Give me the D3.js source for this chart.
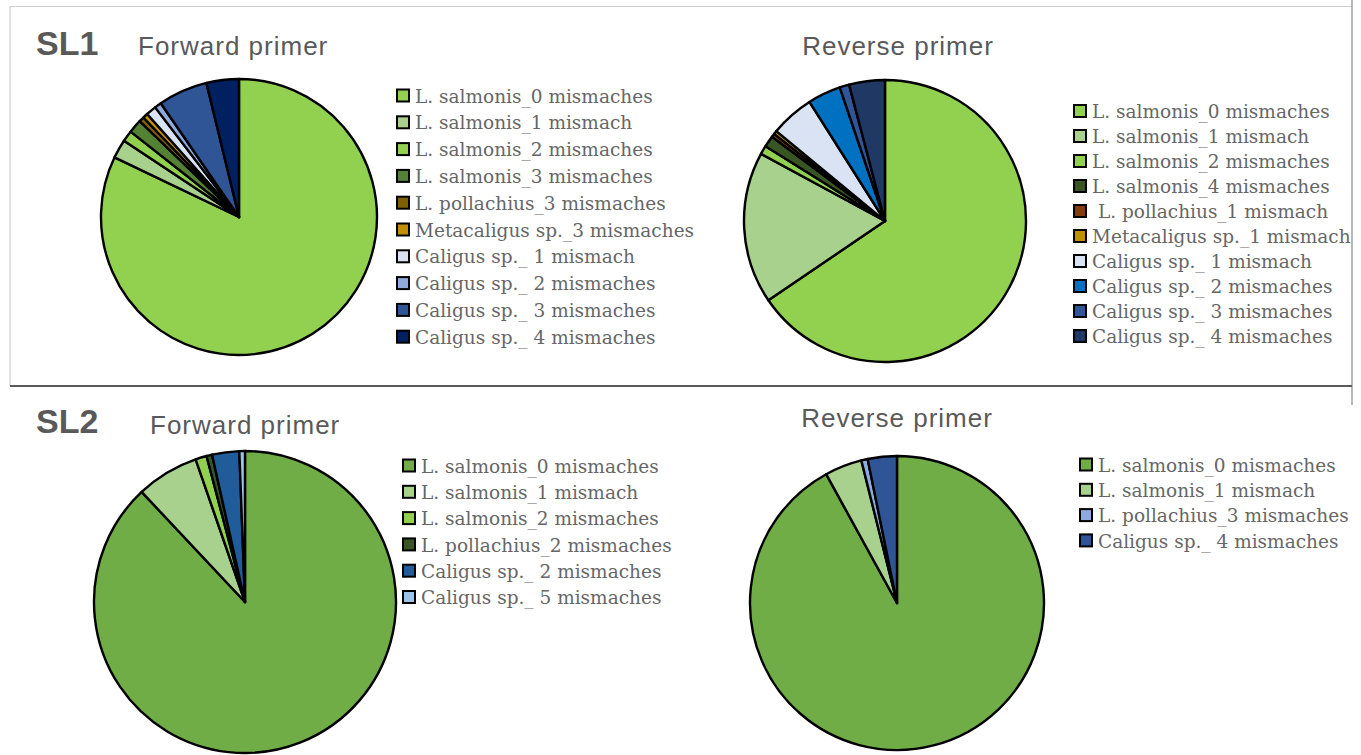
<!DOCTYPE html>
<html>
<head>
<meta charset="utf-8">
<script src="https://cdn.jsdelivr.net/npm/d3@7"></script>
<style>
  html, body { margin: 0; padding: 0; background: #fff; }
  svg { display: block; }
</style>
</head>
<body>
<svg id="chart" width="1361" height="755"></svg>
<script>
// ---------- DATA ----------
const sl1FwdLabels = ["L. salmonis_0 mismaches", "L. salmonis_1 mismach", "L. salmonis_2 mismaches", "L. salmonis_3 mismaches", "L. pollachius_3 mismaches", "Metacaligus sp._3 mismaches", "Caligus sp._ 1 mismach", "Caligus sp._ 2 mismaches", "Caligus sp._ 3 mismaches", "Caligus sp._ 4 mismaches"];
const sl1FwdValues = [82.2, 2.2, 1.3, 1.6, 0.6, 0.6, 1.2, 0.8, 5.8, 3.8];
const sl1FwdColors = ["#92D050", "#A9D18E", "#92D050", "#548235", "#7F6000", "#BF9000", "#DAE3F3", "#8FAADC", "#2F5597", "#002060"];

const sl1RevLabels = ["L. salmonis_0 mismaches", "L. salmonis_1 mismach", "L. salmonis_2 mismaches", "L. salmonis_4 mismaches", " L. pollachius_1 mismach", "Metacaligus sp._1 mismach", "Caligus sp._ 1 mismach", "Caligus sp._ 2 mismaches", "Caligus sp._ 3 mismaches", "Caligus sp._ 4 mismaches"];
const sl1RevValues = [65.5, 17.4, 1.0, 1.3, 0.4, 0.4, 5.0, 3.8, 1.1, 4.1];
const sl1RevColors = ["#92D050", "#A9D18E", "#92D050", "#375623", "#843C0C", "#BF9000", "#DAE3F3", "#0070C0", "#2F5597", "#1F3864"];

const sl2FwdLabels = ["L. salmonis_0 mismaches", "L. salmonis_1 mismach", "L. salmonis_2 mismaches", "L. pollachius_2 mismaches", "Caligus sp._ 2 mismaches", "Caligus sp._ 5 mismaches"];
const sl2FwdValues = [88.0, 6.7, 1.2, 0.6, 2.9, 0.6];
const sl2FwdColors = ["#70AD47", "#A9D18E", "#92D050", "#375623", "#1F5C99", "#9DC3E6"];

const sl2RevLabels = ["L. salmonis_0 mismaches", "L. salmonis_1 mismach", "L. pollachius_3 mismaches", "Caligus sp._ 4 mismaches"];
const sl2RevValues = [92.0, 4.1, 0.7, 3.2];
const sl2RevColors = ["#70AD47", "#A9D18E", "#8FAADC", "#2F5597"];

const panelTitles = ["Forward primer", "Reverse primer"];
const rowTitles = ["SL1", "SL2"];

// ---------- LAYOUT ----------
const svg = d3.select("#chart");
const textGrey = "#595959";
const legendGrey = "#666666";

// frame lines
svg.append("line").attr("x1", 10).attr("x2", 1352).attr("y1", 6.5).attr("y2", 6.5)
  .attr("stroke", "#cfcfcf").attr("stroke-width", 1.2);
svg.append("line").attr("x1", 10).attr("x2", 10).attr("y1", 6).attr("y2", 386)
  .attr("stroke", "#cfcfcf").attr("stroke-width", 1.2);
svg.append("line").attr("x1", 1352).attr("x2", 1352).attr("y1", 0).attr("y2", 405)
  .attr("stroke", "#8a8a8a").attr("stroke-width", 1.2);
svg.append("line").attr("x1", 10).attr("x2", 1352).attr("y1", 386).attr("y2", 386)
  .attr("stroke", "#5a5a5a").attr("stroke-width", 2.2);

// row titles
const rowTitleY = [55, 433];
rowTitles.forEach((t, i) => {
  svg.append("text").attr("x", 36).attr("y", rowTitleY[i])
    .attr("font-family", "Liberation Sans, Arial, sans-serif")
    .attr("font-weight", "bold").attr("font-size", 34)
    .attr("fill", textGrey).text(t);
});

// panel titles
const titleSpecs = [
  {text: panelTitles[0], x: 138, y: 55, anchor: "start"},
  {text: panelTitles[1], x: 898, y: 55, anchor: "middle"},
  {text: panelTitles[0], x: 150, y: 434, anchor: "start"},
  {text: panelTitles[1], x: 897, y: 427, anchor: "middle"}
];
titleSpecs.forEach(s => {
  svg.append("text").attr("x", s.x).attr("y", s.y)
    .attr("text-anchor", s.anchor)
    .attr("font-family", "Liberation Sans, Arial, sans-serif")
    .attr("font-size", 26).attr("letter-spacing", "1px")
    .attr("fill", textGrey).text(s.text);
});

// pies
const pies = [
  {labels: sl1FwdLabels, values: sl1FwdValues, colors: sl1FwdColors, cx: 239, cy: 217, r: 138,
   lx: 396, ly: 96, ldy: 26.8},
  {labels: sl1RevLabels, values: sl1RevValues, colors: sl1RevColors, cx: 885, cy: 221, r: 141,
   lx: 1073, ly: 111.5, ldy: 25.0},
  {labels: sl2FwdLabels, values: sl2FwdValues, colors: sl2FwdColors, cx: 245, cy: 602, r: 151,
   lx: 402, ly: 466, ldy: 26.3},
  {labels: sl2RevLabels, values: sl2RevValues, colors: sl2RevColors, cx: 897, cy: 603, r: 147,
   lx: 1079, ly: 465, ldy: 25.3}
];

const pieGen = d3.pie().sort(null).value(d => d.v).startAngle(0).endAngle(2 * Math.PI);

pies.forEach(p => {
  const data = p.values.map((v, i) => ({v, label: p.labels[i]}));
  const color = d3.scaleOrdinal().domain(p.labels).range(p.colors);
  const arc = d3.arc().innerRadius(0).outerRadius(p.r);
  const g = svg.append("g").attr("transform", `translate(${p.cx},${p.cy})`);
  g.selectAll("path").data(pieGen(data)).join("path")
    .attr("d", arc)
    .attr("fill", d => color(d.data.label))
    .attr("stroke", "#000").attr("stroke-width", 2.4)
    .attr("stroke-linejoin", "round");

  // legend
  const y = d3.scalePoint().domain(p.labels).range([p.ly, p.ly + p.ldy * (p.labels.length - 1)]);
  const lg = svg.append("g");
  const item = lg.selectAll("g").data(p.labels).join("g")
    .attr("transform", d => `translate(${p.lx},${y(d)})`);
  item.append("rect").attr("x", 1).attr("y", -6.5).attr("width", 12).attr("height", 12)
    .attr("fill", d => color(d)).attr("stroke", "#000").attr("stroke-width", 2);
  item.append("text").attr("x", 19).attr("y", 0).attr("dy", "0.36em")
    .attr("font-family", "DejaVu Serif, serif").attr("font-size", 18.5)
    .attr("fill", legendGrey)
    .style("white-space", "pre")
    .text(d => d);
});
</script>
</body>
</html>
